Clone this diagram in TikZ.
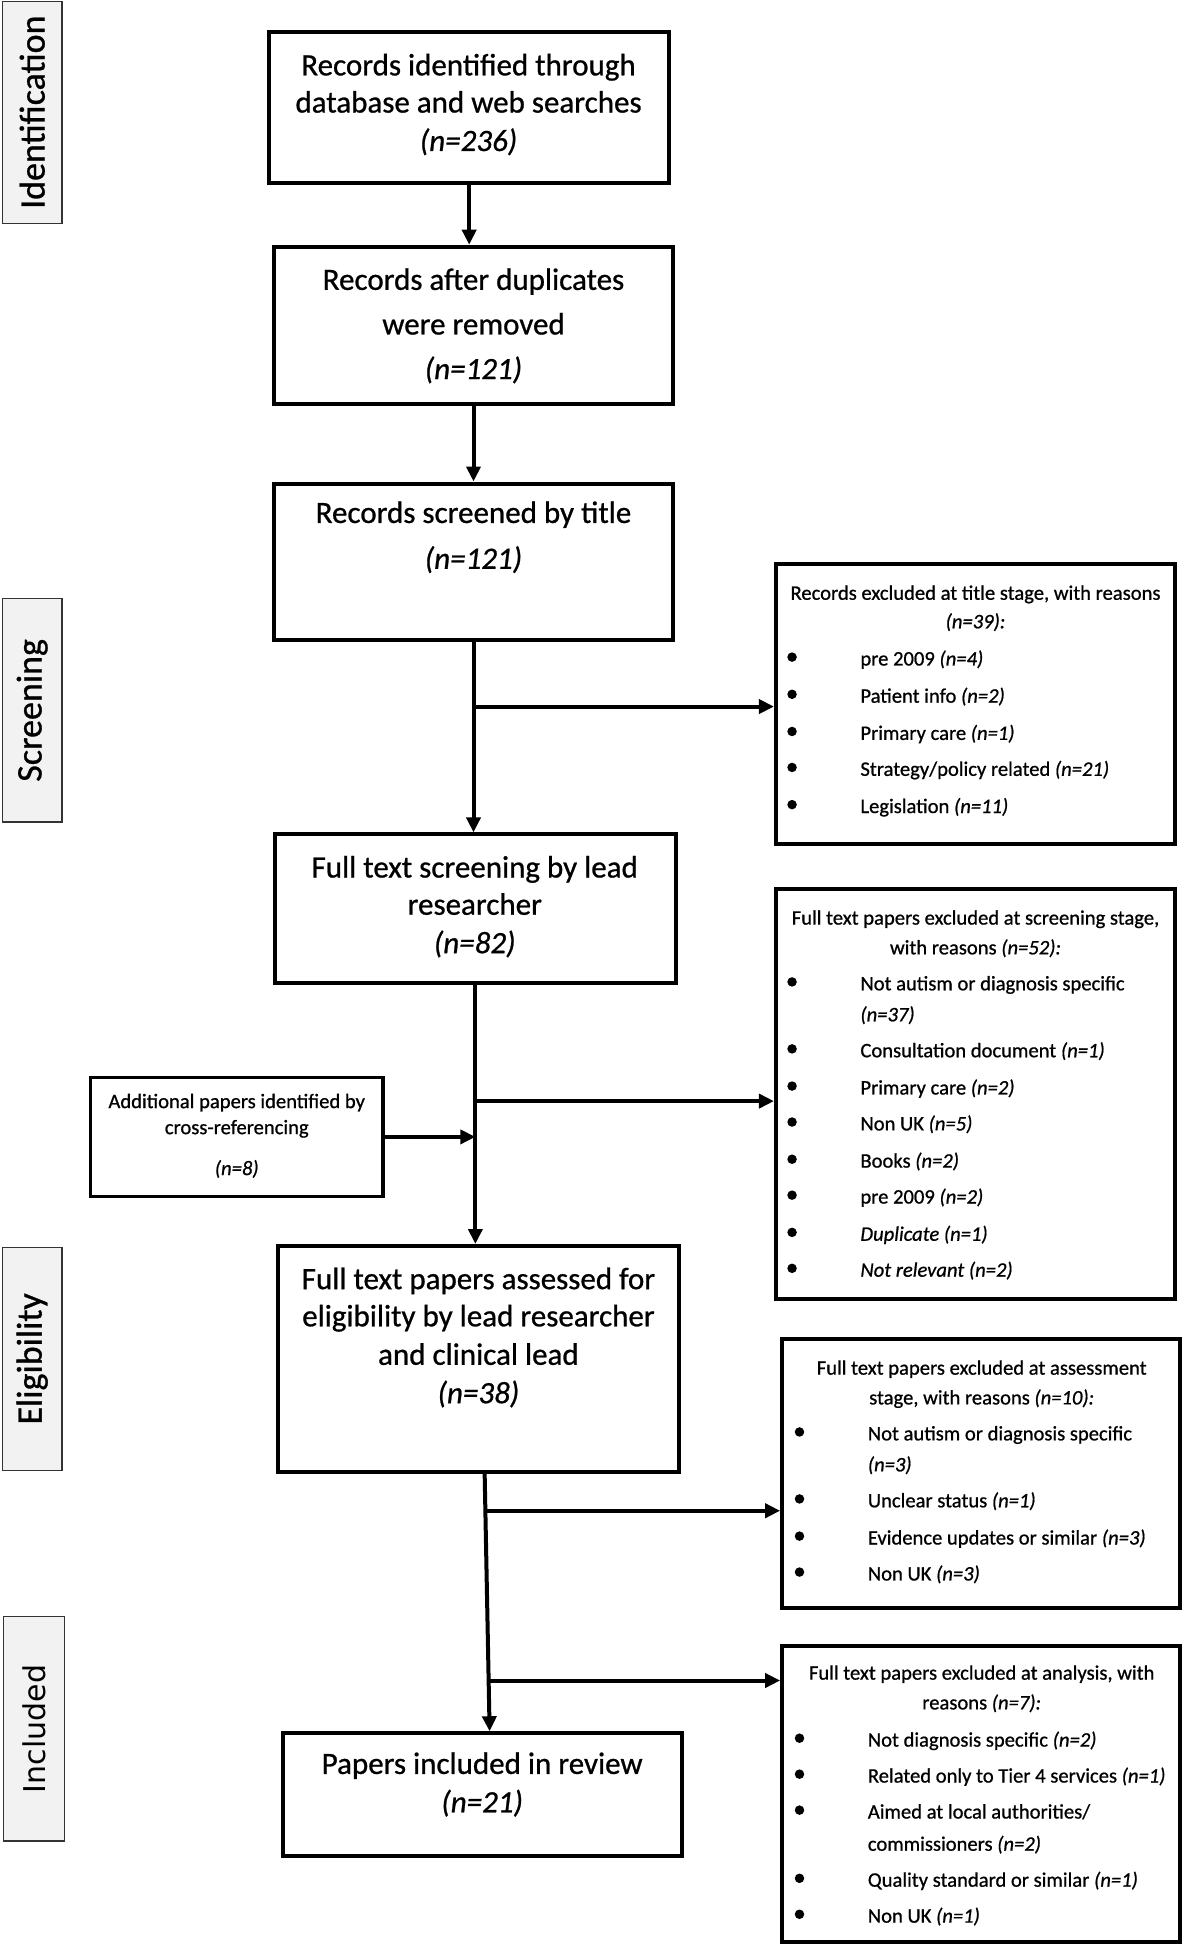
\documentclass[tikz,border=0pt]{standalone}
\usepackage{fontspec}
\setmainfont{Carlito}[FakeBold=0.8]
\newfontfamily\dejavu{DejaVu Sans}
\usetikzlibrary{arrows.meta,calc,fit}
\begin{document}
\begin{tikzpicture}[x=1.23954pt,y=-1.2398pt,
  box/.style={draw=black,line width=4pt,inner sep=0pt},
  stage/.style={draw=black!80,fill=black!5,line width=1.3pt,inner sep=0pt},
  big/.style={font=\fontsize{31}{37}\selectfont, anchor=mid, inner sep=0pt, yshift=-8.5pt},
  sm/.style={font=\fontsize{20.6}{25}\selectfont, anchor=mid, inner sep=0pt, yshift=-6pt},
  lab/.style={font=\fontsize{36}{40}\selectfont, rotate=90, inner sep=0pt},
  arr/.style={line width=4pt,-{Triangle[length=15pt,width=14pt]}},
  bul/.style={circle,fill=black,inner sep=0pt,minimum size=9.5pt}
]
\useasboundingbox (0,0) rectangle (956,1568);
% stage labels
\node[stage,fit={(2,1) (50,180)}] (s1) {};
\node[lab] (s1t) at (s1.center) {Identification};
\node[stage,fit={(2,483) (50,663)}] (s2) {};
\node[lab] (s2t) at (s2.center) {Screening};
\node[stage,fit={(2,1006) (50,1186)}] (s3) {};
\node[lab] (s3t) at (s3.center) {Eligibility};
\node[stage,fit={(3,1304) (52,1485)}] (s4) {};
\node[lab,font=\dejavu\fontsize{30}{32}\selectfont] (s4t) at (s4.center) {Included};

% main boxes
\node[box,fit={(217,26) (540,148)}] (b1) {};
\node[big] (b1a) at (378,52) {Records identified through};
\node[big] (b1b) at (378,82) {database and web searches};
\node[big] (b1c) at (378,113) {\textit{(n=236)}};

\node[box,fit={(221,199) (543,326)}] (b2) {};
\node[big] (b2a) at (382,225) {Records after duplicates};
\node[big] (b2b) at (382,261) {were removed};
\node[big] (b2c) at (382,297) {\textit{(n=121)}};

\node[box,fit={(221,390) (543,516)}] (b3) {};
\node[big] (b3a) at (382,413) {Records screened by title};
\node[big] (b3b) at (382,450) {\textit{(n=121)}};

\node[box,fit={(222,673) (545,793)}] (b4) {};
\node[big] (b4a) at (383,699) {Full text screening by lead};
\node[big] (b4b) at (383,729) {researcher};
\node[big] (b4c) at (383,760) {\textit{(n=82)}};

\node[box,fit={(224,1005) (548,1187)}] (b5) {};
\node[big] (b5a) at (386,1031) {Full text papers assessed for};
\node[big] (b5b) at (386,1061) {eligibility by lead researcher};
\node[big] (b5c) at (386,1092) {and clinical lead};
\node[big] (b5d) at (386,1123) {\textit{(n=38)}};

\node[box,fit={(228,1398) (550,1497)}] (b6) {};
\node[big] (b6a) at (389,1422) {Papers included in review};
\node[big] (b6b) at (389,1453) {\textit{(n=21)}};

\node[box,line width=3.6pt,fit={(73,869) (309,965)}] (ad) {};
\node[sm] (ada) at (191,887) {Additional papers identified by};
\node[sm] (adb) at (191,908) {cross-referencing};
\node[sm] (adc) at (191,941) {\textit{(n=8)}};

% right boxes
\node[box,fit={(626,455) (948,681)}] (r1) {};
\node[sm] (r1a) at (787,477) {Records excluded at title stage, with reasons};
\node[sm] (r1b) at (787,500) {\textit{(n=39):}};
\foreach \y/\t [count=\i] in {530/{pre 2009 \textit{(n=4)}},560/{Patient info \textit{(n=2)}},590/{Primary care \textit{(n=1)}},619/{Strategy/policy related \textit{(n=21)}},649/{Legislation \textit{(n=11)}}}{
  \node[bul] (r1d\i) at (639,\y) {};
  \node[sm,anchor=mid west] (r1i\i) at (694,\y) {\t};
}

\node[box,fit={(626,717) (948,1048)}] (r2) {};
\node[sm] (r2a) at (787,739) {Full text papers excluded at screening stage,};
\node[sm] (r2b) at (787,763) {with reasons \textit{(n=52):}};
\foreach \y/\t [count=\i] in {792/{Not autism or diagnosis specific},846/{Consultation document \textit{(n=1)}},876/{Primary care \textit{(n=2)}},905/{Non UK \textit{(n=5)}},935/{Books \textit{(n=2)}},964/{pre 2009 \textit{(n=2)}},994/{\textit{Duplicate (n=1)}},1023/{\textit{Not relevant (n=2)}}}{
  \node[bul] (r2d\i) at (639,\y) {};
  \node[sm,anchor=mid west] (r2i\i) at (694,\y) {\t};
}
\node[sm,anchor=mid west] (r2x) at (694,817) {\textit{(n=37)}};

\node[box,fit={(631,1080) (952,1297)}] (r3) {};
\node[sm] (r3a) at (792,1102) {Full text papers excluded at assessment};
\node[sm] (r3b) at (792,1126) {stage, with reasons \textit{(n=10):}};
\foreach \y/\t [count=\i] in {1155/{Not autism or diagnosis specific},1209/{Unclear status \textit{(n=1)}},1239/{Evidence updates or similar \textit{(n=3)}},1268/{Non UK \textit{(n=3)}}}{
  \node[bul] (r3d\i) at (645,\y) {};
  \node[sm,anchor=mid west] (r3i\i) at (700,\y) {\t};
}
\node[sm,anchor=mid west] (r3x) at (700,1180) {\textit{(n=3)}};

\node[box,fit={(631,1328) (952,1566)}] (r4) {};
\node[sm] (r4a) at (792,1348) {Full text papers excluded at analysis, with};
\node[sm] (r4b) at (792,1372) {reasons \textit{(n=7):}};
\foreach \y/\t [count=\i] in {1402/{Not diagnosis specific \textit{(n=2)}},1431/{Related only to Tier 4 services \textit{(n=1)}},1460/{Aimed at local authorities/},1515/{Quality standard or similar \textit{(n=1)}},1544/{Non UK \textit{(n=1)}}}{
  \node[bul] (r4d\i) at (645,\y) {};
  \node[sm,anchor=mid west] (r4i\i) at (700,\y) {\t};
}
\node[sm,anchor=mid west] (r4x) at (700,1486) {commissioners \textit{(n=2)}};

% connectors
\draw[arr] (b1.south) -- (b1.south |- b2.north);
\draw[arr] (b2.south) -- (b2.south |- b3.north);
\draw[arr] (b3.south) -- (b3.south |- b4.north) coordinate[pos=0.34] (c1);
\draw[arr] (c1) -- (r1.west |- c1);
\draw[arr] (b4.south) -- (b4.south |- b5.north) coordinate[pos=0.448] (c2);
\draw[arr] (c2) -- (r2.west |- c2);
\draw[arr] (ad.east) -- (ad.east -| b4.south);
\coordinate (s5) at ($(b5.south)+(5,0)$);
\coordinate (e6) at ($(b6.north)+(6,0)$);
\draw[arr] (s5) -- (e6);
\coordinate (c3) at ($(s5)!0.144!(e6)$);
\coordinate (c4) at ($(s5)!0.803!(e6)$);
\draw[arr] (c3) -- (r3.west |- c3);
\draw[arr] (c4) -- (r4.west |- c4);
\end{tikzpicture}
\end{document}
